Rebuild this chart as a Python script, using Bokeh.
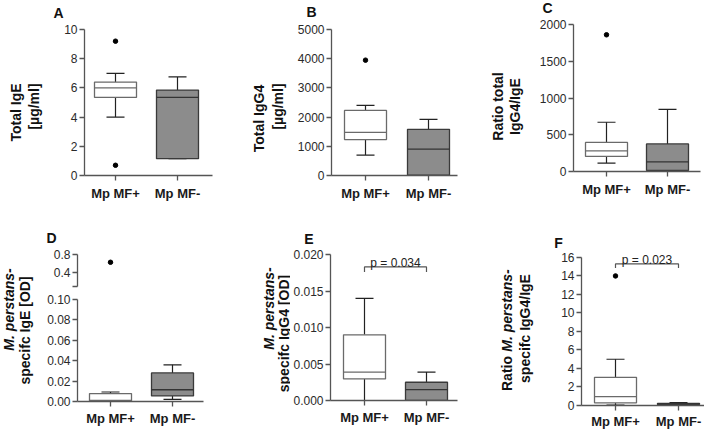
import math
from bokeh.plotting import figure
from bokeh.layouts import row, column
from bokeh.models import Range1d, FixedTicker, NumeralTickFormatter, Label
from bokeh.embed import file_html
from bokeh.resources import INLINE

categories = ["Mp MF+", "Mp MF-"]

# A: Total IgE [µg/ml]
ige_low = [4.0, 1.15]
ige_q1 = [5.35, 1.15]
ige_med = [6.0, 5.35]
ige_q3 = [6.4, 5.85]
ige_high = [7.0, 6.75]
ige_out = [[9.2, 0.7], []]
ige_ticks = [0, 2, 4, 6, 8, 10]

# B: Total IgG4 [µg/ml]
igg4_low = [700, 0]
igg4_q1 = [1230, 10]
igg4_med = [1480, 900]
igg4_q3 = [2230, 1580]
igg4_high = [2400, 1920]
igg4_out = [[3950], []]
igg4_ticks = [0, 1000, 2000, 3000, 4000, 5000]

# C: Ratio total IgG4/IgE
rat_low = [115, 0]
rat_q1 = [205, 15]
rat_med = [280, 130]
rat_q3 = [395, 375]
rat_high = [670, 845]
rat_out = [[1860], []]
rat_ticks = [0, 500, 1000, 1500, 2000]

# D: M. perstans-specific IgE [OD] (broken axis)
sige_low = [0.0, 0.002]
sige_q1 = [0.0005, 0.0055]
sige_med = [0.001, 0.0115]
sige_q3 = [0.0078, 0.028]
sige_high = [0.0093, 0.036]
sige_out = [[0.63], []]
sige_ticks_low = [0.0, 0.02, 0.04, 0.06, 0.08, 0.10]
sige_ticks_up = [0.1, 0.4, 0.8]

# E: M. perstans-specific IgG4 [OD]
sigg4_low = [0.0, 0.0]
sigg4_q1 = [0.00295, 0.0]
sigg4_med = [0.0039, 0.0015]
sigg4_q3 = [0.009, 0.0025]
sigg4_high = [0.014, 0.0039]
sigg4_out = [[], []]
sigg4_ticks = [0.0, 0.005, 0.010, 0.015, 0.020]
p_E = "p = 0.034"

# F: Ratio M. perstans-specific IgG4/IgE
srat_low = [0.05, 0.05]
srat_q1 = [0.29, 0.1]
srat_med = [0.95, 0.16]
srat_q3 = [3.05, 0.24]
srat_high = [5.0, 0.3]
srat_out = [[14.0], []]
srat_ticks = [0, 2, 4, 6, 8, 10, 12, 14, 16]
p_F = "p = 0.023"

FONT = "Liberation Sans"
FILLS = ["white", "#8c8c8c"]
BOX_LINES = ["#6a6a6a", "#3a3a3a"]
MED_LINES = ["#6a6a6a", "#333333"]
AX = "#555555"
pos = [i + 1 for i in range(len(categories))]
R = math.pi / 2


def build(canvas, frame, cats, yr, bounds=None, show_x=True, xstand=5):
    cx0, cy0, cx1, cy1 = canvas
    l, r, t, b = frame
    c1, c2 = cats
    ppu = c2 - c1
    xr = (1 - (c1 - l) / ppu, 2 + (r - c2) / ppu)
    p = figure(frame_width=r - l, frame_height=b - t,
               min_border_left=l - cx0, min_border_right=cx1 - r,
               min_border_top=t - cy0, min_border_bottom=cy1 - b,
               x_range=Range1d(*xr), y_range=Range1d(*yr),
               output_backend="svg", toolbar_location=None,
               x_axis_location="below" if show_x else None)
    p.grid.visible = False
    p.outline_line_color = None
    p.background_fill_color = "white"
    p.border_fill_color = "white"
    for ax in p.axis:
        ax.axis_line_color = AX
        ax.axis_line_width = 1.3
        ax.major_tick_line_color = AX
        ax.major_tick_line_width = 1.3
        ax.major_tick_out = 5
        ax.major_tick_in = 0
        ax.minor_tick_line_color = None
    if show_x:
        xa = p.xaxis[0]
        xa.ticker = FixedTicker(ticks=pos)
        xa.major_label_overrides = {pp: c for pp, c in zip(pos, categories)}
        xa.major_label_text_font = FONT
        xa.major_label_text_font_style = "bold"
        xa.major_label_text_font_size = "13px"
        xa.major_label_text_color = "#1a1a1a"
        xa.major_label_standoff = xstand
    ya = p.yaxis[0]
    ya.major_label_text_font = FONT
    ya.major_label_text_font_size = "12px"
    ya.major_label_text_color = "#2a2a2a"
    ya.major_label_standoff = 2
    if bounds is not None:
        ya.bounds = bounds
    return p, ppu


def lab_fig(canvas):
    x0, y0, x1, y1 = canvas
    f = figure(frame_width=x1 - x0, frame_height=y1 - y0, min_border_left=0, min_border_right=0,
               min_border_top=0, min_border_bottom=0,
               x_range=Range1d(x0, x1), y_range=Range1d(y1, y0),
               x_axis_location=None, y_axis_location=None,
               output_backend="svg", toolbar_location=None)
    f.grid.visible = False
    f.outline_line_color = None
    return f


def draw_boxes(p, ppu, low, q1, med, q3, high, outs, boxes=True):
    if boxes:
        bw = 42 / ppu
        cw = 18 / ppu
        p.segment(x0=pos, y0=q3, x1=pos, y1=high, line_color="#222222", line_width=1.2)
        p.segment(x0=pos, y0=low, x1=pos, y1=q1, line_color="#222222", line_width=1.2)
        p.segment(x0=[x - cw / 2 for x in pos], y0=high, x1=[x + cw / 2 for x in pos], y1=high,
                  line_color="#222222", line_width=1.2)
        p.segment(x0=[x - cw / 2 for x in pos], y0=low, x1=[x + cw / 2 for x in pos], y1=low,
                  line_color="#222222", line_width=1.2)
        p.vbar(x=pos, bottom=q1, top=q3, width=bw, fill_color=FILLS, line_color=BOX_LINES, line_width=1.3)
        p.segment(x0=[x - bw / 2 for x in pos], y0=med, x1=[x + bw / 2 for x in pos], y1=med,
                  line_color=MED_LINES, line_width=1.3)
    ox, oy = [], []
    for xp, vals in zip(pos, outs):
        for v in vals:
            ox.append(xp)
            oy.append(v)
    if ox:
        p.scatter(x=ox, y=oy, size=4.5, color="black")


def txt(p, xy, text, size="14px", style="bold", angle=R, align="center", baseline="middle"):
    p.add_layout(Label(x=xy[0], y=xy[1], text=text, angle=angle, text_align=align,
                       text_baseline=baseline, text_font=FONT, text_font_size=size,
                       text_font_style=style, text_color="#111111"))


def letter(canvas, xy, text):
    s = lab_fig(canvas)
    txt(s, xy, text, "14px", angle=0)
    return s


def bracket(p, y, drop, label):
    p.line(x=[pos[0], pos[0], pos[1], pos[1]], y=[y - drop, y, y, y - drop],
           line_color="#555555", line_width=1.2)
    p.add_layout(Label(x=(pos[0] + pos[1]) / 2, y=y, y_offset=3.5, text=label,
                       text_align="center", text_baseline="alphabetic", text_font=FONT,
                       text_font_size="12px", text_color="#222222"))


# ---------- A ----------
sA = letter((0, 0, 236, 21), (58, 12.5), "A")
labA = lab_fig((0, 21, 50, 213))
txt(labA, (15, 104), "Total IgE")
txt(labA, (33, 98), "[µg/ml]")
pA, uA = build((50, 21, 236, 213), (84, 212, 29, 175), (115, 177), (0, 10))
pA.yaxis[0].ticker = FixedTicker(ticks=ige_ticks)
draw_boxes(pA, uA, ige_low, ige_q1, ige_med, ige_q3, ige_high, ige_out)
cellA = column(sA, row(labA, pA))

# ---------- B ----------
sB = letter((236, 0, 466, 21), (311, 11), "B")
labB = lab_fig((236, 21, 288, 213))
txt(labB, (258, 110), "Total IgG4")
txt(labB, (277, 98), "[µg/ml]")
pB, uB = build((288, 21, 466, 213), (331, 457, 29, 175), (365, 428), (0, 5000))
pB.yaxis[0].ticker = FixedTicker(ticks=igg4_ticks)
draw_boxes(pB, uB, igg4_low, igg4_q1, igg4_med, igg4_q3, igg4_high, igg4_out)
cellB = column(sB, row(labB, pB))

# ---------- C ----------
sC = letter((466, 0, 704, 16), (547, 7), "C")
labC = lab_fig((466, 16, 528, 213))
txt(labC, (497, 98), "Ratio total")
txt(labC, (514, 98), "IgG4/IgE")
pC, uC = build((528, 16, 704, 213), (573, 700, 24, 171), (606, 667), (0, 2000))
pC.yaxis[0].ticker = FixedTicker(ticks=rat_ticks)
draw_boxes(pC, uC, rat_low, rat_q1, rat_med, rat_q3, rat_high, rat_out)
cellC = column(sC, row(labC, pC))

# ---------- D (broken axis) ----------
sD = letter((0, 213, 236, 246), (51, 237.5), "D")
labD = lab_fig((0, 246, 42, 430))
txt(labD, (8, 309), "M. perstans-", style="bold italic")
txt(labD, (24, 330), "specifc IgE [OD]")
pDu, uDu = build((42, 246, 236, 290), (77, 203, 254, 286), (110, 172), (0.1, 0.8), show_x=False)
pDu.yaxis[0].ticker = FixedTicker(ticks=sige_ticks_up)
pDu.yaxis[0].formatter = NumeralTickFormatter(format="0.0")
pDu.yaxis[0].major_label_overrides = {0.1: ""}
draw_boxes(pDu, uDu, sige_low, sige_q1, sige_med, sige_q3, sige_high, sige_out, boxes=False)
pDl, uDl = build((42, 290, 236, 430), (77, 203, 299, 401), (110, 172), (0, 0.1), xstand=4)
pDl.yaxis[0].ticker = FixedTicker(ticks=sige_ticks_low)
pDl.yaxis[0].formatter = NumeralTickFormatter(format="0.00")
draw_boxes(pDl, uDl, sige_low, sige_q1, sige_med, sige_q3, sige_high, sige_out)
cellD = column(sD, row(labD, column(pDu, pDl)))

# ---------- E ----------
sE = letter((236, 213, 466, 246), (308.5, 238.5), "E")
labE = lab_fig((236, 246, 290, 430))
txt(labE, (268, 306), "M. perstans-", style="bold italic")
txt(labE, (283, 331), "specifc IgG4 [OD]")
pE, uE = build((290, 246, 466, 430), (327, 454, 248, 400), (361, 423), (0, 0.020822),
               bounds=(0, 0.02), xstand=4)
pE.yaxis[0].ticker = FixedTicker(ticks=sigg4_ticks)
pE.yaxis[0].formatter = NumeralTickFormatter(format="0.000")
draw_boxes(pE, uE, sigg4_low, sigg4_q1, sigg4_med, sigg4_q3, sigg4_high, sigg4_out)
bracket(pE, 0.0183, 0.0007, p_E)
cellE = column(sE, row(labE, pE))

# ---------- F ----------
sF = letter((466, 213, 704, 250), (555, 242.5), "F")
labF = lab_fig((466, 250, 555, 430))
txt(labF, (503, 373), "Ratio")
txt(labF, (503, 310), "M. perstans-", style="bold italic")
txt(labF, (521, 328), "specifc IgG4/IgE")
pF, uF = build((555, 250, 704, 430), (576, 700, 250, 405), (610, 673), (0, 16.75),
               bounds=(0, 16), xstand=3)
pF.yaxis[0].ticker = FixedTicker(ticks=srat_ticks)
draw_boxes(pF, uF, srat_low, srat_q1, srat_med, srat_q3, srat_high, srat_out)
bracket(pF, 15.3, 0.45, p_F)
cellF = column(sF, row(labF, pF))

layout = column(row(cellA, cellB, cellC), row(cellD, cellE, cellF))

open("out.html", "w").write(file_html(layout, INLINE))
